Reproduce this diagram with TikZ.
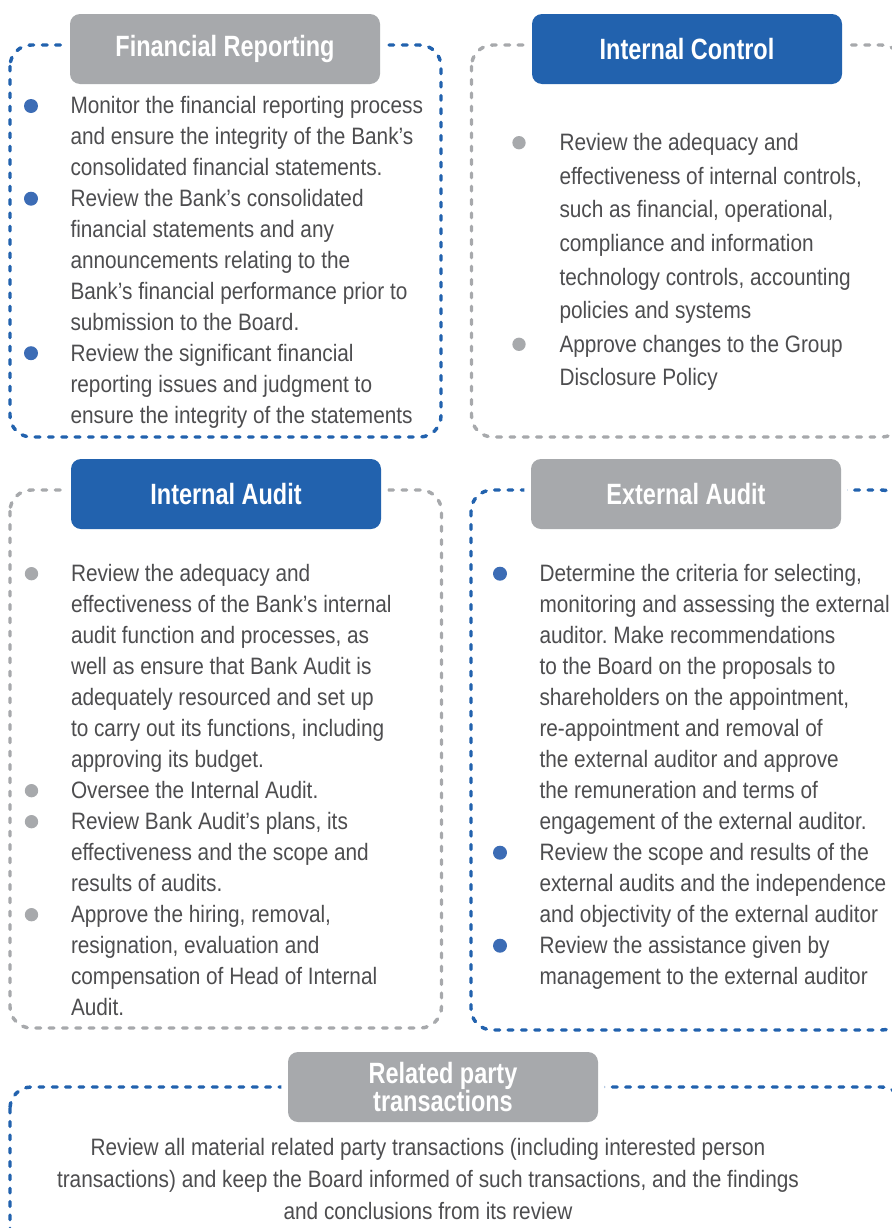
\documentclass[tikz,border=0pt]{standalone}
\usepackage{fontspec}
\setmainfont{Liberation Sans}[FakeStretch=0.876]
\newfontfamily\headfont{Liberation Sans}[FakeStretch=0.8]
\frenchspacing
\definecolor{bankblue}{RGB}{34,98,174}
\definecolor{bankgrey}{RGB}{167,169,172}
\definecolor{dotblue}{RGB}{60,108,181}
\definecolor{bodygrey}{RGB}{77,77,79}

\tikzset{every picture/.style={line width=0.75pt}}
\tikzset{
  panelblue/.style={draw=bankblue, line width=2.6pt, dash pattern=on 3.5pt off 6.5pt, line cap=round, rounded corners=16pt},
  panelgrey/.style={panelblue, draw=bankgrey},
  headblue/.style={fill=bankblue, text=white, rounded corners=7.5pt, minimum width=232.5pt, minimum height=52.5pt, inner sep=0pt, align=center,
    font=\headfont\bfseries\fontsize{22}{20}\selectfont, preaction={draw=white, line width=10pt}},
  headgrey/.style={headblue, fill=bankgrey},
  % base of a multi-line node sits on its last line
  itemtext/.style={anchor=base west, inner sep=0pt, align=left, text=bodygrey, font=\fontsize{17.8}{23.2}\selectfont},
  bulletblue/.style={circle, fill=dotblue, inner sep=0pt, minimum size=10.5pt},
  bulletgrey/.style={bulletblue, fill=bankgrey, minimum size=10pt}
}

\begin{document}
\begin{tikzpicture}[x=0.75pt,y=0.75pt,yscale=-1,xscale=1]
\useasboundingbox (0,0) rectangle (892,1228);
\clip (0,0) rectangle (892,1228);

%Rounded Rect [id:financial reporting]
\draw [panelblue] (10,45) rectangle (441,437) ;
%Rounded Rect [id:internal control]
\draw [panelgrey] (471.5,45) rectangle (903,437) ;
%Rounded Rect [id:internal audit]
\draw [panelgrey] (10,490) rectangle (441.5,1028) ;
%Rounded Rect [id:external audit]
\draw [panelblue] (471,490) rectangle (903,1030) ;
%Rounded Rect [id:related party]
\draw [panelblue] (10,1087) rectangle (903,1262) ;

% Title Node
\draw (225,49) node (frhead) [headgrey] {Financial Reporting};
% Title Node
\draw (687,49) node (ichead) [headblue] {Internal Control};
% Title Node
\draw (226,494) node (iahead) [headblue] {Internal Audit};
% Title Node
\draw (686,494) node (eahead) [headgrey] {External Audit};
% Title Node
\draw (443,1087) node (rphead) [headgrey] {Related party\\transactions};

%Bullets
\draw (31,106) node (frdot1) [bulletblue] {};
\draw (31,198.7) node (frdot2) [bulletblue] {};
\draw (31,353.2) node (frdot3) [bulletblue] {};
\draw (519,142.7) node (icdot1) [bulletgrey] {};
\draw (519,344.3) node (icdot2) [bulletgrey] {};
\draw (31.5,573.7) node (iadot1) [bulletgrey] {};
\draw (31.5,790.7) node (iadot2) [bulletgrey] {};
\draw (31.5,821.7) node (iadot3) [bulletgrey] {};
\draw (31.5,914.7) node (iadot4) [bulletgrey] {};
\draw (500,573.7) node (eadot1) [bulletblue] {};
\draw (500,852.7) node (eadot2) [bulletblue] {};
\draw (500,945.7) node (eadot3) [bulletblue] {};

% Text Node
\draw (70,175.8) node (fritem1) [itemtext] {Monitor the financial reporting process\\and ensure the integrity of the Bank’s\\consolidated financial statements.};
% Text Node
\draw (70,330.3) node (fritem2) [itemtext] {Review the Bank’s consolidated\\financial statements and any\\announcements relating to the\\Bank’s financial performance prior to\\submission to the Board.};
% Text Node
\draw (70,423) node (fritem3) [itemtext] {Review the significant financial\\reporting issues and judgment to\\ensure the integrity of the statements};
% Text Node
\draw (559,318.7) node (icitem1) [itemtext, font=\fontsize{17.8}{25.2}\selectfont] {Review the adequacy and\\effectiveness of internal controls,\\such as financial, operational,\\compliance and information\\technology controls, accounting\\policies and systems};
% Text Node
\draw (559,385.9) node (icitem2) [itemtext, font=\fontsize{17.8}{25.2}\selectfont] {Approve changes to the Group\\Disclosure Policy};
% Text Node
\draw (70.5,767.7) node (iaitem1) [itemtext, font=\fontsize{17.8}{23.25}\selectfont] {Review the adequacy and\\effectiveness of the Bank’s internal\\audit function and processes, as\\well as ensure that Bank Audit is\\adequately resourced and set up\\to carry out its functions, including\\approving its budget.};
% Text Node
\draw (70.5,798.7) node (iaitem2) [itemtext] {Oversee the Internal Audit.};
% Text Node
\draw (70.5,891.7) node (iaitem3) [itemtext, font=\fontsize{17.8}{23.25}\selectfont] {Review Bank Audit’s plans, its\\effectiveness and the scope and\\results of audits.};
% Text Node
\draw (70.5,1015.7) node (iaitem4) [itemtext, font=\fontsize{17.8}{23.25}\selectfont] {Approve the hiring, removal,\\resignation, evaluation and\\compensation of Head of Internal\\Audit.};
% Text Node
\draw (539,829.7) node (eaitem1) [itemtext, font=\fontsize{17.8}{23.25}\selectfont] {Determine the criteria for selecting,\\monitoring and assessing the external\\auditor. Make recommendations\\to the Board on the proposals to\\shareholders on the appointment,\\re-appointment and removal of\\the external auditor and approve\\the remuneration and terms of\\engagement of the external auditor.};
% Text Node
\draw (539,922.7) node (eaitem2) [itemtext, font=\fontsize{17.8}{23.25}\selectfont] {Review the scope and results of the\\external audits and the independence\\and objectivity of the external auditor};
% Text Node
\draw (539,984.7) node (eaitem3) [itemtext, font=\fontsize{17.8}{23.25}\selectfont] {Review the assistance given by\\management to the external auditor};
% Text Node
\draw (428,1219) node (rpitem) [itemtext, anchor=base, align=center, font=\fontsize{17.8}{24}\selectfont] {Review all material related party transactions (including interested person\\transactions) and keep the Board informed of such transactions, and the findings\\and conclusions from its review};

\end{tikzpicture}
\end{document}
